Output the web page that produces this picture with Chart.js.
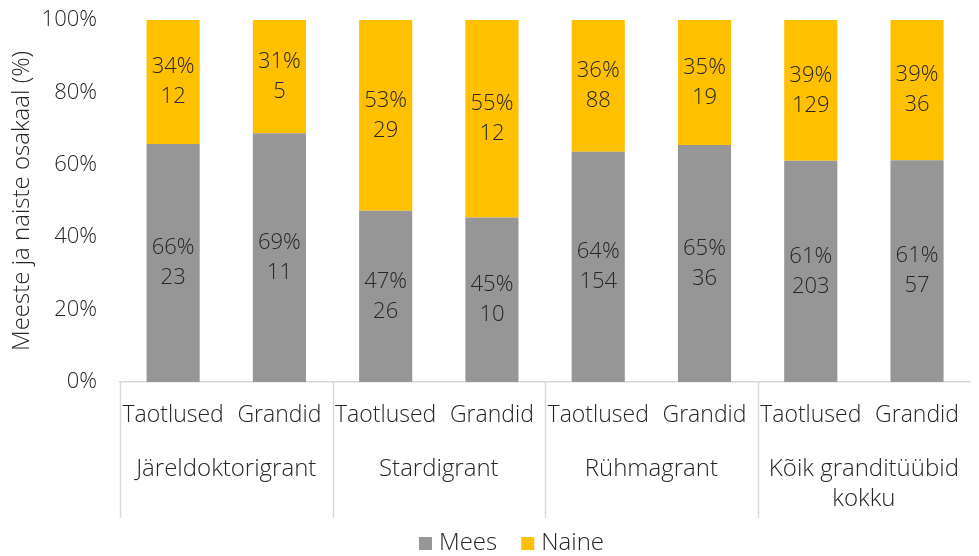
<!DOCTYPE html>
<html>
<head>
<meta charset="utf-8">
<script src="https://cdn.jsdelivr.net/npm/chart.js@4.4.1/dist/chart.umd.min.js"></script>
<style>
  html, body { margin: 0; padding: 0; background: #fff; }
  #wrap { width: 979px; height: 556px; }
</style>
</head>
<body>
<div id="wrap"><canvas id="chart"></canvas></div>
<script>
// categories: two bars per grant type
const categories = ['Taotlused', 'Grandid', 'Taotlused', 'Grandid', 'Taotlused', 'Grandid', 'Taotlused', 'Grandid'];
const groups = [['Järeldoktorigrant'], ['Stardigrant'], ['Rühmagrant'], ['Kõik granditüübid', 'kokku']];

// counts per category
const meesCount = [23, 11, 26, 10, 154, 36, 203, 57];
const naineCount = [12, 5, 29, 12, 88, 19, 129, 36];

const yTicks = [0, 20, 40, 60, 80, 100];

const meesShare = meesCount.map((m, i) => m / (m + naineCount[i]) * 100);
const naineShare = naineCount.map((n, i) => n / (meesCount[i] + n) * 100);

const textColor = '#262626';
const fontFamily = "'Open Sans', Lato, sans-serif";
const numSize = 22;   // numbers
const wordSize = 24;  // words
const fontWeight = 300;
Chart.defaults.font.family = fontFamily;
Chart.defaults.font.weight = fontWeight;
Chart.defaults.color = textColor;

const font = size => fontWeight + ' ' + size + 'px ' + fontFamily;

// segment labels: "66%" over the count
const segmentLabels = {
    id: 'segmentLabels',
    afterDatasetsDraw(chart) {
        const ctx = chart.ctx;
        ctx.save();
        ctx.font = font(numSize);
        ctx.fillStyle = textColor;
        ctx.textAlign = 'center';
        ctx.textBaseline = 'middle';
        const counts = [meesCount, naineCount];
        chart.data.datasets.forEach((ds, di) => {
            chart.getDatasetMeta(di).data.forEach((bar, i) => {
                const mid = (bar.y + bar.base) / 2;
                ctx.fillText(Math.round(ds.data[i]) + '%', bar.x, mid - 15);
                ctx.fillText(String(counts[di][i]), bar.x, mid + 15);
            });
        });
        ctx.restore();
    }
};

// second level of the category axis with divider lines, and the legend
const groupAxis = {
    id: 'groupAxis',
    afterDraw(chart) {
        const ctx = chart.ctx;
        const x = chart.scales.x;
        const bottom = chart.chartArea.bottom;
        ctx.save();
        ctx.strokeStyle = '#d9d9d9';
        ctx.lineWidth = 1.5;
        const edges = [x.left, ...[1.5, 3.5, 5.5].map(v => x.getPixelForValue(v))];
        edges.forEach(px => {
            ctx.beginPath();
            ctx.moveTo(Math.round(px) + 0.5, bottom);
            ctx.lineTo(Math.round(px) + 0.5, bottom + 136);
            ctx.stroke();
        });
        ctx.font = font(wordSize);
        ctx.fillStyle = textColor;
        ctx.textAlign = 'center';
        ctx.textBaseline = 'middle';
        groups.forEach((lines, g) => {
            const cx = (x.getPixelForValue(g * 2) + x.getPixelForValue(g * 2 + 1)) / 2;
            lines.forEach((t, k) => ctx.fillText(t, cx, bottom + 87 + k * 30));
        });

        // legend
        const ds = chart.data.datasets;
        const box = 13, gapText = 7, gapItem = 24;
        const widths = ds.map(d => box + gapText + ctx.measureText(d.label).width);
        let lx = (chart.width - widths.reduce((a, b) => a + b, 0) - gapItem * (ds.length - 1)) / 2 + 22;
        const ly = 543;
        ctx.textAlign = 'left';
        ds.forEach((d, i) => {
            ctx.fillStyle = d.backgroundColor;
            ctx.fillRect(lx, ly - 6, box, box);
            ctx.fillStyle = textColor;
            ctx.fillText(d.label, lx + box + gapText, ly);
            lx += widths[i] + gapItem;
        });
        ctx.restore();
    }
};

new Chart(document.getElementById('chart'), {
    type: 'bar',
    data: {
        labels: categories,
        datasets: [
            {
                label: 'Mees',
                data: meesShare,
                backgroundColor: '#969696',
                barPercentage: 0.5,
                categoryPercentage: 1.0
            },
            {
                label: 'Naine',
                data: naineShare,
                backgroundColor: '#ffc000',
                barPercentage: 0.5,
                categoryPercentage: 1.0
            }
        ]
    },
    options: {
        responsive: true,
        maintainAspectRatio: false,
        animation: false,
        layout: { padding: { top: 20, right: 0, left: 8, bottom: 36 } },
        plugins: {
            legend: { display: false },
            tooltip: { enabled: false }
        },
        scales: {
            x: {
                stacked: true,
                grid: { display: false, drawTicks: false },
                border: { display: true, color: '#d9d9d9', width: 1.5 },
                ticks: { font: { size: 23 }, color: textColor, maxRotation: 0, autoSkip: false, padding: 20 },
                afterFit(scale) { scale.height = 138; }
            },
            y: {
                stacked: true,
                min: 0,
                max: 100,
                afterBuildTicks(scale) { scale.ticks = yTicks.map(v => ({ value: v })); },
                grid: { display: false, drawTicks: false },
                border: { display: false },
                ticks: { font: { size: numSize }, color: textColor, padding: 23, callback: v => v + '%' },
                title: { display: true, text: 'Meeste ja naiste osakaal (%)', font: { size: wordSize }, color: textColor, padding: 0 },
                afterFit(scale) { scale.width = 112; scale.paddingTop = 0; scale.paddingBottom = 0; }
            }
        }
    },
    plugins: [segmentLabels, groupAxis]
});
</script>
</body>
</html>
